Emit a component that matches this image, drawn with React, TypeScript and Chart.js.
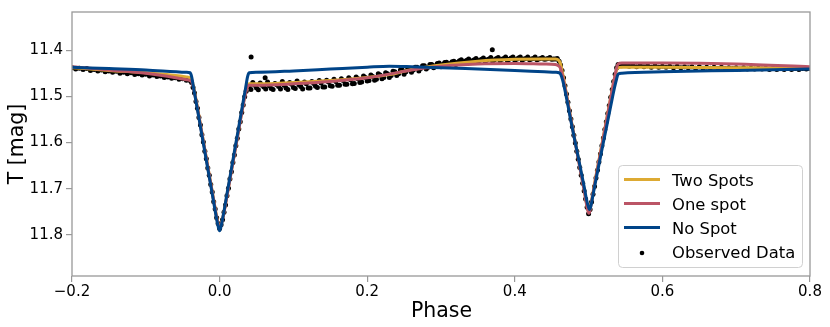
import React, { useEffect, useRef } from 'react';
import { Chart, registerables } from 'chart.js';

Chart.register(...registerables);

// ---- model curves (phase, magnitude) ----
const modelPhase = [
  -0.2, -0.15, -0.1, -0.045, -0.04, -0.038, -0.035, -0.03, -0.025, -0.02,
  -0.015, -0.01, -0.006, -0.003, 0, 0.003, 0.006, 0.01, 0.015, 0.02,
  0.025, 0.03, 0.035, 0.038, 0.04, 0.05, 0.1, 0.15, 0.2, 0.23,
  0.26, 0.3, 0.35, 0.4, 0.44, 0.455, 0.46, 0.462, 0.465, 0.47,
  0.475, 0.48, 0.485, 0.49, 0.494, 0.497, 0.5, 0.501, 0.503, 0.506,
  0.51, 0.515, 0.52, 0.525, 0.53, 0.535, 0.538, 0.54, 0.545, 0.6,
  0.7, 0.8,
];

const noSpot = [
  11.437, 11.440, 11.443, 11.448, 11.449, 11.457, 11.484, 11.529, 11.575, 11.620,
  11.666, 11.711, 11.748, 11.774, 11.791, 11.774, 11.748, 11.711, 11.666, 11.620,
  11.575, 11.529, 11.484, 11.457, 11.449, 11.448, 11.445, 11.441, 11.437, 11.435,
  11.436, 11.438, 11.441, 11.444, 11.447, 11.448, 11.449, 11.452, 11.466, 11.503,
  11.545, 11.585, 11.624, 11.664, 11.696, 11.722, 11.741, 11.745, 11.738, 11.713,
  11.680, 11.640, 11.600, 11.561, 11.521, 11.482, 11.462, 11.452, 11.450, 11.447,
  11.444, 11.441,
];

const twoSpots = [
  11.438, 11.444, 11.449, 11.458, 11.460, 11.463, 11.482, 11.524, 11.570, 11.615,
  11.661, 11.706, 11.743, 11.769, 11.785, 11.772, 11.750, 11.715, 11.670, 11.625,
  11.580, 11.534, 11.492, 11.476, 11.473, 11.473, 11.470, 11.466, 11.459, 11.453,
  11.442, 11.432, 11.424, 11.420, 11.419, 11.419, 11.423, 11.430, 11.452, 11.495,
  11.540, 11.582, 11.625, 11.668, 11.702, 11.730, 11.750, 11.749, 11.735, 11.708,
  11.672, 11.630, 11.587, 11.545, 11.502, 11.462, 11.443, 11.438, 11.437, 11.437,
  11.438, 11.438,
];

const oneSpot = [
  11.436, 11.443, 11.450, 11.464, 11.466, 11.468, 11.485, 11.526, 11.571, 11.616,
  11.662, 11.707, 11.744, 11.770, 11.786, 11.773, 11.751, 11.716, 11.671, 11.626,
  11.581, 11.536, 11.495, 11.479, 11.476, 11.476, 11.473, 11.468, 11.460, 11.452,
  11.443, 11.435, 11.430, 11.429, 11.430, 11.431, 11.435, 11.440, 11.458, 11.497,
  11.541, 11.584, 11.627, 11.670, 11.704, 11.732, 11.753, 11.752, 11.737, 11.710,
  11.674, 11.632, 11.589, 11.546, 11.503, 11.461, 11.438, 11.430, 11.428, 11.428,
  11.430, 11.436,
];

// ---- observed data, sampled on regular phase grids ----
const obsPreStart = -0.2;
const obsPreStep = 0.005;
const obsPre = [
  11.438, 11.441, 11.439, 11.442, 11.440, 11.444, 11.442, 11.445, 11.443, 11.447,
  11.445, 11.448, 11.446, 11.450, 11.448, 11.451, 11.449, 11.453, 11.451, 11.454,
  11.452, 11.456, 11.454, 11.457, 11.456, 11.459, 11.458, 11.461, 11.460, 11.463,
  11.462, 11.465, 11.466,
];

const obsPrimaryStart = -0.038;
const obsPrimaryStep = 0.002;
const obsPrimary = [
  11.470, 11.481, 11.493, 11.511, 11.526, 11.546, 11.562, 11.583, 11.599, 11.619,
  11.635, 11.655, 11.671, 11.691, 11.707, 11.728, 11.744, 11.763, 11.775, 11.786,
  11.778, 11.767, 11.751, 11.735, 11.715, 11.699, 11.679, 11.663, 11.643, 11.627,
  11.607, 11.591, 11.571, 11.555, 11.535, 11.519, 11.501, 11.489, 11.478,
];

const obsMidStart = 0.04;
const obsMidStep = 0.005;
const obsMid = [
  11.478, 11.470, 11.482, 11.471, 11.480, 11.469, 11.483, 11.472, 11.479, 11.468,
  11.482, 11.470, 11.481, 11.467, 11.479, 11.469, 11.482, 11.468, 11.478, 11.466,
  11.480, 11.465, 11.477, 11.463, 11.476, 11.462, 11.474, 11.460, 11.473, 11.458,
  11.470, 11.456, 11.467, 11.454, 11.465, 11.451, 11.462, 11.449, 11.459, 11.446,
  11.455, 11.443, 11.452, 11.440, 11.448, 11.437, 11.445, 11.434, 11.441, 11.431,
  11.438, 11.429, 11.436, 11.427, 11.433, 11.425, 11.431, 11.423, 11.429, 11.422,
  11.427, 11.421, 11.426, 11.420, 11.425, 11.419, 11.424, 11.418, 11.423, 11.418,
  11.423, 11.417, 11.422, 11.417, 11.422, 11.418, 11.421, 11.418, 11.421, 11.418,
  11.420, 11.418, 11.420, 11.419, 11.424,
];

const obsMid2Start = 0.0425;
const obsMid2Step = 0.005;
const obsMid2 = [
  11.485, 11.476, 11.486, 11.476, 11.484, 11.477, 11.485, 11.475, 11.484, 11.476,
  11.485, 11.474, 11.483, 11.475, 11.484, 11.473, 11.482, 11.472, 11.481, 11.471,
  11.480, 11.469, 11.478, 11.468, 11.476, 11.466, 11.474, 11.464, 11.472, 11.462,
  11.469, 11.459, 11.466, 11.457, 11.463, 11.454, 11.459, 11.451, 11.455, 11.447,
  11.451, 11.443, 11.447, 11.440, 11.443, 11.437, 11.440, 11.434, 11.437, 11.431,
  11.434, 11.428, 11.431, 11.426, 11.429, 11.424, 11.426, 11.421, 11.424, 11.419,
  11.423, 11.418, 11.422, 11.417, 11.421, 11.416, 11.421, 11.416, 11.420, 11.415,
  11.420, 11.415, 11.420, 11.415, 11.419, 11.415, 11.419, 11.415, 11.419, 11.416,
  11.419, 11.416, 11.419, 11.418,
];

const obsSecondaryStart = 0.462;
const obsSecondaryStep = 0.002;
const obsSecondary = [
  11.432, 11.444, 11.460, 11.477, 11.495, 11.513, 11.531, 11.549, 11.566, 11.584,
  11.601, 11.619, 11.636, 11.654, 11.671, 11.688, 11.705, 11.722, 11.740, 11.754,
  11.745, 11.729, 11.712, 11.695, 11.677, 11.660, 11.642, 11.625, 11.607, 11.590,
  11.572, 11.555, 11.537, 11.520, 11.502, 11.485, 11.468, 11.452, 11.438,
];

const obsPostStart = 0.54;
const obsPostStep = 0.005;
const obsPost = [
  11.431, 11.434, 11.432, 11.435, 11.433, 11.436, 11.433, 11.436, 11.434, 11.437,
  11.434, 11.437, 11.435, 11.437, 11.435, 11.438, 11.435, 11.438, 11.436, 11.438,
  11.436, 11.439, 11.436, 11.439, 11.437, 11.439, 11.437, 11.440, 11.437, 11.440,
  11.438, 11.440, 11.438, 11.441, 11.438, 11.441, 11.439, 11.441, 11.439, 11.441,
  11.439, 11.442, 11.439, 11.442, 11.440, 11.442, 11.440, 11.442, 11.440, 11.442,
  11.440, 11.441, 11.440,
];

const outlierPhase = [0.0427, 0.0617, 0.3695];
const outlierMag = [11.415, 11.460, 11.399];

const xTicks = [-0.2, 0, 0.2, 0.4, 0.6, 0.8];
const yTicks = [11.4, 11.5, 11.6, 11.7, 11.8];
const legendLabels = ['Two Spots', 'One spot', 'No Spot', 'Observed Data'];
const xTitle = 'Phase';
const yTitle = 'T [mag]';

const COL_TWO = '#DDAA33';
const COL_ONE = '#BB5566';
const COL_NONE = '#004488';
const FONT = '"DejaVu Sans", sans-serif';
const FRAME = '#999999';

function segment(start: number, step: number, mags: number[]) {
  return mags.map((m, i) => ({ x: start + i * step, y: m }));
}

function model(mags: number[]) {
  return modelPhase.map((p, i) => ({ x: p, y: mags[i] }));
}

export default function App() {
  const ref = useRef<HTMLCanvasElement | null>(null);

  useEffect(() => {
    if (!ref.current) return;
    const observed = [
      ...segment(obsPreStart, obsPreStep, obsPre),
      ...segment(obsPrimaryStart, obsPrimaryStep, obsPrimary),
      ...segment(obsMidStart, obsMidStep, obsMid),
      ...segment(obsMid2Start, obsMid2Step, obsMid2),
      ...segment(obsSecondaryStart, obsSecondaryStep, obsSecondary),
      ...segment(obsPostStart, obsPostStep, obsPost),
      ...outlierPhase.map((p, i) => ({ x: p, y: outlierMag[i] })),
    ];

    const overlay = {
      id: 'overlay',
      afterDatasetsDraw(chart: any) {
        const { ctx, chartArea: a } = chart;
        ctx.save();
        // frame
        ctx.strokeStyle = FRAME;
        ctx.lineWidth = 1.3;
        ctx.strokeRect(a.left, a.top, a.right - a.left, a.bottom - a.top);
        // axis titles
        ctx.fillStyle = '#000';
        ctx.font = `20.5px ${FONT}`;
        ctx.textAlign = 'center';
        ctx.textBaseline = 'alphabetic';
        ctx.fillText(xTitle, (a.left + a.right) / 2 + 0.5, 316.5);
        ctx.save();
        ctx.translate(22.5, (a.top + a.bottom) / 2);
        ctx.rotate(-Math.PI / 2);
        ctx.fillText(yTitle, 0, 0);
        ctx.restore();
        // legend
        const bx = 618.5, by = 165.5, bw = 184, bh = 102, r = 4;
        ctx.beginPath();
        ctx.moveTo(bx + r, by);
        ctx.lineTo(bx + bw - r, by);
        ctx.quadraticCurveTo(bx + bw, by, bx + bw, by + r);
        ctx.lineTo(bx + bw, by + bh - r);
        ctx.quadraticCurveTo(bx + bw, by + bh, bx + bw - r, by + bh);
        ctx.lineTo(bx + r, by + bh);
        ctx.quadraticCurveTo(bx, by + bh, bx, by + bh - r);
        ctx.lineTo(bx, by + r);
        ctx.quadraticCurveTo(bx, by, bx + r, by);
        ctx.closePath();
        ctx.fillStyle = 'rgba(255,255,255,0.8)';
        ctx.fill();
        ctx.strokeStyle = '#d0d0d0';
        ctx.lineWidth = 1;
        ctx.stroke();
        const rows = [179.5, 203.5, 227.5, 252];
        const cols = [COL_TWO, COL_ONE, COL_NONE];
        ctx.lineWidth = 3;
        for (let i = 0; i < 3; i++) {
          ctx.strokeStyle = cols[i];
          ctx.beginPath();
          ctx.moveTo(624, rows[i]);
          ctx.lineTo(660, rows[i]);
          ctx.stroke();
        }
        ctx.fillStyle = '#000';
        ctx.beginPath();
        ctx.arc(642, rows[3] + 1, 2.3, 0, Math.PI * 2);
        ctx.fill();
        ctx.font = `16.4px ${FONT}`;
        ctx.textAlign = 'left';
        ctx.textBaseline = 'alphabetic';
        const bases = [185.5, 209.5, 233.5, 257.5];
        for (let i = 0; i < 4; i++) {
          ctx.fillText(legendLabels[i], 672, bases[i]);
        }
        ctx.restore();
      },
    };

    const chart = new Chart(ref.current, {
      type: 'line',
      data: {
        datasets: [
          {
            label: 'No Spot',
            data: model(noSpot),
            borderColor: COL_NONE,
            borderWidth: 3,
            pointRadius: 0,
            fill: false,
            cubicInterpolationMode: 'monotone',
            order: 1,
          },
          {
            label: 'One spot',
            data: model(oneSpot),
            borderColor: COL_ONE,
            borderWidth: 3,
            pointRadius: 0,
            fill: false,
            cubicInterpolationMode: 'monotone',
            order: 2,
          },
          {
            label: 'Two Spots',
            data: model(twoSpots),
            borderColor: COL_TWO,
            borderWidth: 3,
            pointRadius: 0,
            fill: false,
            cubicInterpolationMode: 'monotone',
            order: 3,
          },
          {
            label: 'Observed Data',
            data: observed,
            showLine: false,
            pointRadius: 2.5,
            pointBorderWidth: 0,
            pointBackgroundColor: '#000',
            backgroundColor: '#000',
            borderColor: '#000',
            order: 4,
          },
        ],
      } as any,
      options: {
        responsive: false,
        animation: false,
        devicePixelRatio: 1,
        layout: { padding: { top: 6, right: 20, left: 0, bottom: 0 } },
        plugins: { legend: { display: false }, tooltip: { enabled: false } },
        scales: {
          x: {
            type: 'linear',
            min: -0.2,
            max: 0.8,
            afterFit: (s: any) => { s.height = 51; },
            afterBuildTicks: (s: any) => { s.ticks = xTicks.map((v) => ({ value: v })); },
            ticks: {
              autoSkip: false,
              maxRotation: 0,
              padding: 1,
              color: '#000',
              font: { family: FONT, size: 15 },
              callback: (v: any) => {
                const n = Number(v);
                if (Math.abs(n) < 1e-9) return '0.0';
                return n < 0 ? '\u2212' + Math.abs(n).toFixed(1) : n.toFixed(1);
              },
            },
            grid: { drawOnChartArea: false, drawTicks: true, tickLength: 6, color: FRAME, lineWidth: 1.2 },
            border: { display: false },
          },
          y: {
            type: 'linear',
            reverse: true,
            min: 11.3175,
            max: 11.8889,
            afterFit: (s: any) => { s.width = 72; },
            afterBuildTicks: (s: any) => { s.ticks = yTicks.map((v) => ({ value: v })); },
            ticks: {
              autoSkip: false,
              padding: 3,
              color: '#000',
              font: { family: FONT, size: 15 },
              callback: (v: any) => Number(v).toFixed(1),
            },
            grid: { drawOnChartArea: false, drawTicks: true, tickLength: 6, color: FRAME, lineWidth: 1.2 },
            border: { display: false },
          },
        },
      } as any,
      plugins: [overlay],
    });
    return () => chart.destroy();
  }, []);

  return (
    <div style={{ position: 'fixed', left: 0, top: 0, width: 830, height: 327, background: '#fff' }}>
      <canvas ref={ref} width={830} height={327} style={{ display: 'block' }} />
    </div>
  );
}
